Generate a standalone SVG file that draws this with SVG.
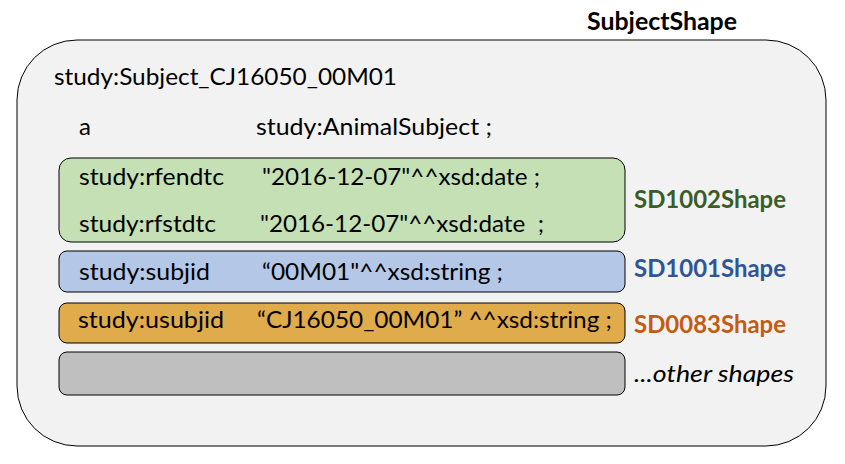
<svg xmlns="http://www.w3.org/2000/svg" width="845" height="464" viewBox="0 0 845 464">
<style>
text{font-family:Lato,"Open Sans","Liberation Sans",sans-serif;font-size:24px;fill:#000}
.b{font-weight:bold}
.g{fill:#3b5c27}
.bl{fill:#2f5597}
.o{fill:#c55a11}
.box{stroke:#000;stroke-width:1}
</style>
<rect width="845" height="464" fill="#fff"/>
<g id="subjectShape">
<text class="b" x="587" y="30" textLength="150" lengthAdjust="spacingAndGlyphs">SubjectShape</text>
<rect class="box" x="17" y="40" width="809" height="406" rx="60" ry="60" fill="#f2f2f2"/>
<text x="54" y="85" textLength="343" lengthAdjust="spacingAndGlyphs">study:Subject_CJ16050_00M01</text>
<text x="79" y="135">a</text>
<text x="256" y="135" textLength="236" lengthAdjust="spacingAndGlyphs">study:AnimalSubject ;</text>
</g>
<g id="sd1002">
<rect class="box" x="59" y="158" width="566" height="84" rx="12" fill="#c5e0b4"/>
<text x="79" y="185" textLength="145" lengthAdjust="spacingAndGlyphs">study:rfendtc</text>
<text x="262" y="185" textLength="278" lengthAdjust="spacingAndGlyphs">"2016-12-07"^^xsd:date ;</text>
<text x="79" y="232" textLength="137" lengthAdjust="spacingAndGlyphs">study:rfstdtc</text>
<text x="260" y="232" textLength="284" lengthAdjust="spacingAndGlyphs" xml:space="preserve">"2016-12-07"^^xsd:date  ;</text>
<text class="b g" x="634" y="208" textLength="152" lengthAdjust="spacingAndGlyphs">SD1002Shape</text>
</g>
<g id="sd1001">
<rect class="box" x="59" y="251" width="566" height="41" rx="8" fill="#b4c7e7"/>
<text x="79" y="280" textLength="131" lengthAdjust="spacingAndGlyphs">study:subjid</text>
<text x="262" y="280" textLength="241" lengthAdjust="spacingAndGlyphs">“00M01"^^xsd:string ;</text>
<text class="b bl" x="634" y="277" textLength="152" lengthAdjust="spacingAndGlyphs">SD1001Shape</text>
</g>
<g id="sd0083">
<rect class="box" x="59" y="303" width="566" height="40" rx="8" fill="#e0ab4a"/>
<text x="78" y="328" textLength="146" lengthAdjust="spacingAndGlyphs">study:usubjid</text>
<text x="257" y="328" textLength="355" lengthAdjust="spacingAndGlyphs">“CJ16050_00M01” ^^xsd:string ;</text>
<text class="b o" x="634" y="333" textLength="152" lengthAdjust="spacingAndGlyphs">SD0083Shape</text>
</g>
<g id="other">
<rect class="box" x="59" y="352" width="566" height="43" rx="8" fill="#bfbfbf"/>
<text x="634" y="382" font-style="italic" textLength="160" lengthAdjust="spacingAndGlyphs">...other shapes</text>
</g>
<g id="connectors"/>
</svg>
